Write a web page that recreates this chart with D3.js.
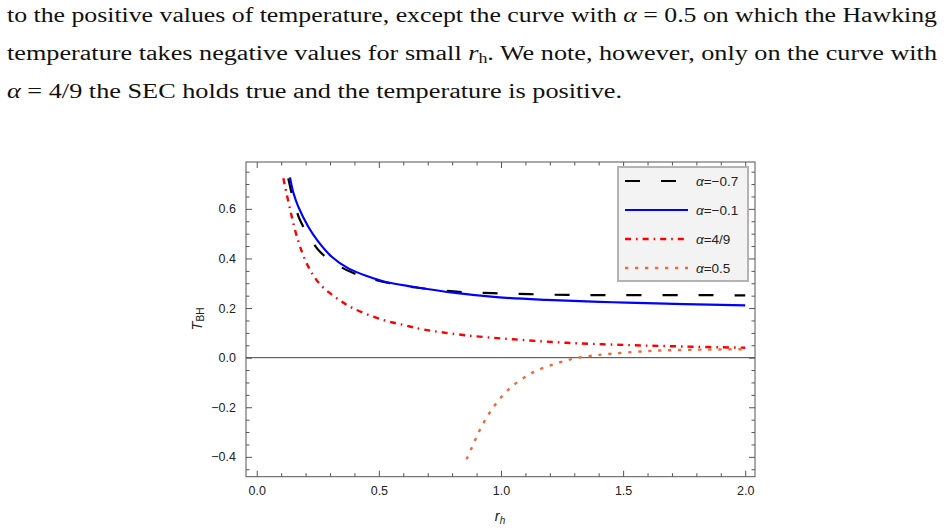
<!DOCTYPE html>
<html>
<head>
<meta charset="utf-8">
<script src="https://cdn.jsdelivr.net/npm/d3@7"></script>
<style>
  body { margin: 0; background: #fff; }
  svg { display: block; }
</style>
</head>
<body>
<div id="chart"></div>
<script>
// Canvas
const WIDTH = 944;
const HEIGHT = 531;

// Curves: r_h and T_BH for each alpha
const rhA07 = [0.129, 0.15, 0.177, 0.22, 0.259, 0.32, 0.382, 0.45, 0.545, 0.65, 0.818, 0.968, 1.118, 1.268, 1.411, 1.568, 1.75, 1.867, 2.0];
const tA07 = [0.723, 0.635, 0.555, 0.48, 0.427, 0.38, 0.347, 0.323, 0.30, 0.283, 0.266, 0.26, 0.256, 0.253, 0.252, 0.252, 0.252, 0.252, 0.251];

const rhA01 = [0.136, 0.15, 0.17, 0.211, 0.252, 0.307, 0.375, 0.457, 0.525, 0.641, 0.804, 0.982, 1.186, 1.404, 1.513, 1.75, 2.0];
const tA01 = [0.727, 0.665, 0.609, 0.528, 0.468, 0.407, 0.36, 0.327, 0.306, 0.286, 0.262, 0.244, 0.233, 0.225, 0.222, 0.216, 0.211];

const rhA49 = [0.109, 0.136, 0.17, 0.211, 0.259, 0.327, 0.395, 0.518, 0.6, 0.681, 0.845, 1.05, 1.268, 1.513, 1.75, 2.0];
const tA49 = [0.723, 0.6, 0.47, 0.367, 0.296, 0.24, 0.199, 0.152, 0.132, 0.114, 0.0915, 0.074, 0.06, 0.051, 0.045, 0.04];

const rhA05 = [0.859, 0.878, 0.896, 0.915, 0.937, 0.961, 0.988, 1.018, 1.051, 1.088, 1.126, 1.168, 1.211, 1.254, 1.298, 1.343, 1.388, 1.431, 1.609, 1.793, 2.0];
const tA05 = [-0.41, -0.368, -0.328, -0.288, -0.249, -0.211, -0.175, -0.141, -0.111, -0.085, -0.062, -0.043, -0.028, -0.015, -0.004, 0.004, 0.0097, 0.014, 0.027, 0.032, 0.034];

const legendLabels = ["=\u22120.7", "=\u22120.1", "=4/9", "=0.5"];
const xTicks = [0, 0.5, 1, 1.5, 2];
const xTickLabels = ["0.0", "0.5", "1.0", "1.5", "2.0"];
const yTicks = [-0.4, -0.2, 0, 0.2, 0.4, 0.6];
const yTickLabels = ["\u22120.4", "\u22120.2", "0.0", "0.2", "0.4", "0.6"];

const series = [
  {r: rhA07, t: tA07, color: "#000", width: 2.2, dash: "15,21"},
  {r: rhA01, t: tA01, color: "#0000ff", width: 2.2, dash: null},
  {r: rhA49, t: tA49, color: "#ff0000", width: 2.4, dash: "6,5,1.6,5"},
  {r: rhA05, t: tA05, color: "#ee6a3a", width: 2.4, dash: "3.3,6.7"},
];

const svg = d3.select("#chart").append("svg")
  .attr("width", WIDTH)
  .attr("height", HEIGHT);

// Paragraph above the figure
const serif = "'Liberation Serif', 'Times New Roman', serif";
const para = svg.append("g")
  .attr("font-family", serif)
  .attr("font-size", 20.5)
  .attr("fill", "#111");

const l1 = para.append("text").attr("x", 7).attr("y", 22)
  .attr("textLength", 930).attr("lengthAdjust", "spacingAndGlyphs");
l1.append("tspan").text("to the positive values of temperature, except the curve with ");
l1.append("tspan").attr("font-style", "italic").text("\u03b1");
l1.append("tspan").text(" = 0.5 on which the Hawking");

const l2 = para.append("text").attr("x", 7).attr("y", 60)
  .attr("textLength", 930).attr("lengthAdjust", "spacingAndGlyphs");
l2.append("tspan").text("temperature takes negative values for small ");
l2.append("tspan").attr("font-style", "italic").text("r");
l2.append("tspan").attr("font-size", 14).attr("dy", 3).text("h");
l2.append("tspan").attr("dy", -3).text(". We note, however, only on the curve with");

const l3 = para.append("text").attr("x", 7).attr("y", 98)
  .attr("textLength", 615).attr("lengthAdjust", "spacingAndGlyphs");
l3.append("tspan").attr("font-style", "italic").text("\u03b1");
l3.append("tspan").text(" = 4/9 the SEC holds true and the temperature is positive.");

// Plot area
const plotLeft = 246, plotRight = 755, plotTop = 162, plotBottom = 476.7;
const x = d3.scaleLinear().domain([-0.044, 2.04]).range([plotLeft, plotRight]);
const y = d3.scaleLinear().domain([-0.48, 0.789]).range([plotBottom, plotTop]);

svg.append("clipPath").attr("id", "plotclip")
  .append("rect")
  .attr("x", plotLeft).attr("y", plotTop)
  .attr("width", plotRight - plotLeft).attr("height", plotBottom - plotTop);

const sans = "'Liberation Sans', Arial, sans-serif";
const frameColor = "#555";

// zero axis line
svg.append("line")
  .attr("x1", plotLeft).attr("x2", plotRight)
  .attr("y1", y(0)).attr("y2", y(0))
  .attr("stroke", "#444").attr("stroke-width", 1);

// ticks: major + minor, inward on all four sides
const xMinor = d3.range(0, 2.01, 0.1).filter(v => Math.abs(v * 2 - Math.round(v * 2)) > 1e-6);
const yMinor = d3.range(-0.45, 0.76, 0.05).filter(v => Math.abs(v * 5 - Math.round(v * 5)) > 1e-6);

function styleAxis(g) {
  g.select(".domain").remove();
  g.selectAll(".tick line").attr("stroke", frameColor).attr("stroke-width", 1);
  g.selectAll(".tick text")
    .attr("font-family", sans)
    .attr("font-size", 12.5)
    .attr("fill", "#222");
}

svg.append("g").attr("transform", `translate(0,${plotBottom})`)
  .call(d3.axisBottom(x).tickValues(xTicks).tickSize(-6).tickPadding(9)
    .tickFormat((d, i) => xTickLabels[i]))
  .call(styleAxis);
svg.append("g").attr("transform", `translate(0,${plotBottom})`)
  .call(d3.axisBottom(x).tickValues(xMinor).tickSize(-3.5).tickFormat(""))
  .call(styleAxis);
svg.append("g").attr("transform", `translate(0,${plotTop})`)
  .call(d3.axisTop(x).tickValues(xTicks).tickSize(-6).tickFormat(""))
  .call(styleAxis);
svg.append("g").attr("transform", `translate(0,${plotTop})`)
  .call(d3.axisTop(x).tickValues(xMinor).tickSize(-3.5).tickFormat(""))
  .call(styleAxis);

svg.append("g").attr("transform", `translate(${plotLeft},0)`)
  .call(d3.axisLeft(y).tickValues(yTicks).tickSize(-6).tickPadding(10)
    .tickFormat((d, i) => yTickLabels[i]))
  .call(styleAxis);
svg.append("g").attr("transform", `translate(${plotLeft},0)`)
  .call(d3.axisLeft(y).tickValues(yMinor).tickSize(-3.5).tickFormat(""))
  .call(styleAxis);
svg.append("g").attr("transform", `translate(${plotRight},0)`)
  .call(d3.axisRight(y).tickValues(yTicks).tickSize(-6).tickFormat(""))
  .call(styleAxis);
svg.append("g").attr("transform", `translate(${plotRight},0)`)
  .call(d3.axisRight(y).tickValues(yMinor).tickSize(-3.5).tickFormat(""))
  .call(styleAxis);

// frame
svg.append("rect")
  .attr("x", plotLeft).attr("y", plotTop)
  .attr("width", plotRight - plotLeft).attr("height", plotBottom - plotTop)
  .attr("fill", "none").attr("stroke", frameColor).attr("stroke-width", 1);

// curves
const line = d3.line()
  .x(d => x(d[0]))
  .y(d => y(d[1]))
  .curve(d3.curveCatmullRom.alpha(0.5));

const curves = svg.append("g").attr("clip-path", "url(#plotclip)");
series.forEach(s => {
  curves.append("path")
    .datum(s.r.map((r, i) => [r, s.t[i]]))
    .attr("d", line)
    .attr("fill", "none")
    .attr("stroke", s.color)
    .attr("stroke-width", s.width)
    .attr("stroke-dasharray", s.dash);
});

// axis titles
const yTitle = svg.append("text")
  .attr("transform", `translate(202,319) rotate(-90)`)
  .attr("text-anchor", "middle")
  .attr("font-family", sans)
  .attr("font-size", 14.5)
  .attr("fill", "#222");
yTitle.append("tspan").attr("font-style", "italic").text("T");
yTitle.append("tspan").attr("font-size", 10).attr("dy", 2).text("BH");

const xTitle = svg.append("text")
  .attr("x", 500).attr("y", 521)
  .attr("text-anchor", "middle")
  .attr("font-family", sans)
  .attr("font-size", 14.5)
  .attr("font-style", "italic")
  .attr("fill", "#222");
xTitle.append("tspan").text("r");
xTitle.append("tspan").attr("font-size", 10).attr("dy", 3).text("h");

// legend
const legend = svg.append("g");
legend.append("rect")
  .attr("x", 618).attr("y", 167)
  .attr("width", 130).attr("height", 114)
  .attr("fill", "#f3f3f3")
  .attr("stroke", "#b3b3b3")
  .attr("stroke-width", 2);

const rowY = [181, 210, 239, 268];
series.forEach((s, i) => {
  legend.append("line")
    .attr("x1", 625).attr("x2", 688)
    .attr("y1", rowY[i]).attr("y2", rowY[i])
    .attr("stroke", s.color)
    .attr("stroke-width", s.width)
    .attr("stroke-dasharray", s.dash);
  const t = legend.append("text")
    .attr("x", 696).attr("y", rowY[i] + 5)
    .attr("font-family", sans)
    .attr("font-size", 13.5)
    .attr("fill", "#222");
  t.append("tspan").attr("font-style", "italic").text("\u03b1");
  t.append("tspan").text(legendLabels[i]);
});
</script>
</body>
</html>
